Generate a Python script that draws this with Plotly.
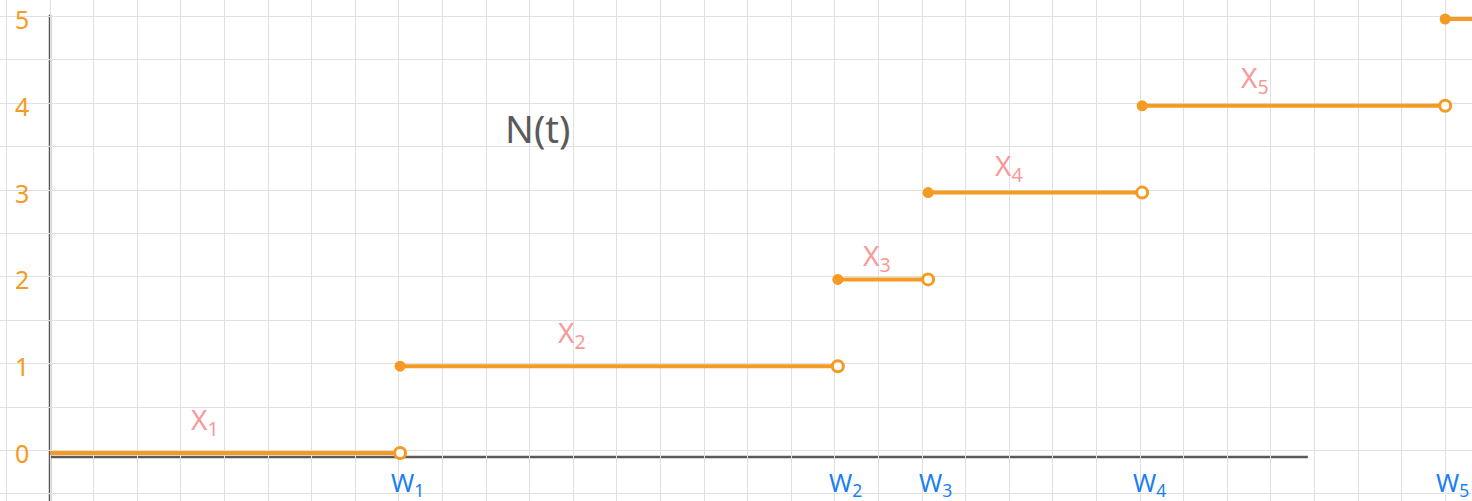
import plotly.graph_objects as go

# ---- data ----
arrival_times = [8.03, 18.07, 20.14, 25.05, 32.0]       # W1..W5 (grid units)
counts = [0, 1, 2, 3, 4, 5]                              # N(t) levels
w_labels = ["W<sub>1</sub>", "W<sub>2</sub>", "W<sub>3</sub>", "W<sub>4</sub>", "W<sub>5</sub>"]
x_labels = ["X<sub>1</sub>", "X<sub>2</sub>", "X<sub>3</sub>", "X<sub>4</sub>", "X<sub>5</sub>"]
x_label_pos = [(3.55, 0.37), (11.97, 1.37), (18.97, 2.26), (22.0, 3.30), (27.64, 4.31)]
y_tick_labels = ["0", "1", "2", "3", "4", "5"]
t_start = 0.0
t_end = 33.5

ORANGE = "#f59a23"
PINK = "#f79a9a"
BLUE = "#1a7ff2"
GRAY = "#5a5a5a"

XMIN, XMAX = -50 / 43.6, (1472 - 50) / 43.6
YMIN, YMAX = -(501 - 453) / 86.8, 453 / 86.8

fig = go.Figure()

starts = [t_start] + arrival_times
ends = arrival_times + [t_end]
for i, n in enumerate(counts):
    fig.add_trace(go.Scatter(x=[starts[i], ends[i]], y=[n, n], mode="lines",
                             line=dict(color=ORANGE, width=4), hoverinfo="skip",
                             showlegend=False))
# filled start markers (at each arrival)
fig.add_trace(go.Scatter(x=arrival_times, y=counts[1:], mode="markers",
                         marker=dict(color=ORANGE, size=11, line=dict(width=0)),
                         showlegend=False, hoverinfo="skip"))
# open end markers
fig.add_trace(go.Scatter(x=arrival_times, y=counts[:-1], mode="markers",
                         marker=dict(color="white", size=11, line=dict(color=ORANGE, width=3)),
                         showlegend=False, hoverinfo="skip"))

# axes lines
fig.add_shape(type="line", x0=0, x1=0, y0=YMIN, y1=5.05, line=dict(color=GRAY, width=2.5), layer="below")
fig.add_shape(type="line", x0=0, x1=28.85, y0=-0.046, y1=-0.046, line=dict(color=GRAY, width=2.5), layer="below")

FONT = "Noto Sans"
for n, lab in zip(counts, y_tick_labels):
    fig.add_annotation(x=-0.64, y=n, text=lab, showarrow=False,
                       font=dict(family=FONT, size=25, color=ORANGE))
for t, lab in zip(arrival_times, w_labels):
    fig.add_annotation(x=t + 0.17, y=-0.35, text=lab, showarrow=False,
                       font=dict(family=FONT, size=25, color=BLUE))
for (px, py), lab in zip(x_label_pos, x_labels):
    fig.add_annotation(x=px, y=py, text=lab, showarrow=False,
                       font=dict(family=FONT, size=28, color=PINK))
fig.add_annotation(x=11.17, y=3.74, text="N(t)", showarrow=False,
                   font=dict(family=FONT, size=38, color=GRAY))

fig.update_layout(
    width=1472, height=501,
    margin=dict(l=0, r=0, t=0, b=0),
    paper_bgcolor="white", plot_bgcolor="white",
    xaxis=dict(range=[XMIN, XMAX], showticklabels=False, zeroline=False,
               showgrid=True, gridcolor="#e0e0e0", gridwidth=1, dtick=1, tick0=0, ticks=""),
    yaxis=dict(range=[YMIN, YMAX], showticklabels=False, zeroline=False,
               showgrid=True, gridcolor="#e0e0e0", gridwidth=1, dtick=0.5, tick0=0.03, ticks=""),
)

fig.write_html("out.html", config={"displayModeBar": False},
               post_script="document.body.style.margin='0px';")
